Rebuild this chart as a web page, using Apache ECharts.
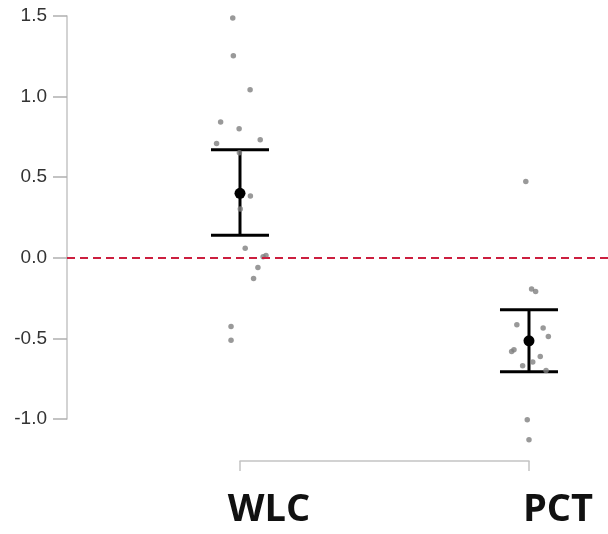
<!DOCTYPE html>
<html>
<head>
<meta charset="utf-8">
<script src="https://cdn.jsdelivr.net/npm/echarts@6/dist/echarts.min.js"></script>
<style>html,body{margin:0;padding:0;background:#fff}#c{width:608px;height:534px}</style>
</head>
<body>
<div id="c"></div>
<script>
const categories = ['WLC', 'PCT'];
const yTicks = [-1.0, -0.5, 0.0, 0.5, 1.0, 1.5];
// individual points: value and horizontal jitter (in category units)
const wlcValues = [1.487, 1.253, 1.042, 0.842, 0.800, 0.732, 0.709, 0.651, 0.383, 0.302, 0.060, 0.014, 0.006, -0.060, -0.128, -0.426, -0.511];
const wlcJitter = [-0.025, -0.023, 0.035, -0.067, -0.003, 0.070, -0.081, -0.002, 0.036, 0.001, 0.018, 0.090, 0.080, 0.062, 0.047, -0.031, -0.031];
const pctValues = [0.473, -0.194, -0.209, -0.415, -0.436, -0.488, -0.581, -0.570, -0.612, -0.647, -0.670, -0.699, -1.004, -1.128];
const pctJitter = [-0.011, 0.009, 0.023, -0.042, 0.049, 0.067, -0.060, -0.052, 0.039, 0.013, -0.022, 0.059, -0.006, 0.000];
// group means and interval bounds
const means = [0.40, -0.515];
const lower = [0.14, -0.707];
const upper = [0.67, -0.323];

const pts = [];
wlcValues.forEach((v, i) => pts.push([1 + wlcJitter[i], v]));
pctValues.forEach((v, i) => pts.push([2 + pctJitter[i], v]));
const bars = categories.map((c, i) => [i + 1, means[i], lower[i], upper[i]]);

const chart = echarts.init(document.getElementById('c'), null, {renderer: 'canvas'});
chart.setOption({
  animation: false,
  grid: [
    {left: 67, right: 0, top: 16, bottom: 115},
    {left: 240, right: 79, top: 440, bottom: 73}
  ],
  xAxis: [
    {gridIndex: 0, type: 'value', min: 0.4014, max: 2.2734, show: false},
    {gridIndex: 1, type: 'value', min: 1, max: 2, interval: 1,
     axisLine: {show: true, lineStyle: {color: '#c4c4c4', width: 1.5}},
     axisTick: {show: true, length: 10, lineStyle: {color: '#c4c4c4', width: 1.5}},
     splitLine: {show: false},
     axisLabel: {
       formatter: v => categories[Math.round(v) - 1] || '',
       fontFamily: 'Open Sans', fontWeight: 'bold', fontSize: 38, color: '#111',
       margin: 30, padding: [0, 0, 0, 58]
     }}
  ],
  yAxis: [
    {gridIndex: 0, type: 'value', min: yTicks[0], max: yTicks[yTicks.length - 1], interval: 0.5,
     axisLine: {show: true, lineStyle: {color: '#c4c4c4', width: 1.5}},
     axisTick: {show: true, length: 14, lineStyle: {color: '#b0b0b0', width: 1.5}},
     splitLine: {show: false},
     axisLabel: {formatter: v => v.toFixed(1), fontFamily: 'Liberation Sans', fontSize: 19, color: '#333', margin: 20}},
    {gridIndex: 1, type: 'value', show: false}
  ],
  series: [
    {
      type: 'scatter', xAxisIndex: 0, yAxisIndex: 0, data: pts, symbolSize: 5.5, clip: false,
      itemStyle: {color: '#808080'},
      markLine: {
        silent: true, symbol: 'none', label: {show: false},
        lineStyle: {color: '#cc1f3f', width: 2, type: [8, 5]},
        data: [{yAxis: 0}]
      }
    },
    {
      type: 'custom', xAxisIndex: 0, yAxisIndex: 0, data: bars, clip: false,
      renderItem: function (params, api) {
        const x = api.value(0);
        const m = api.coord([x, api.value(1)]);
        const lo = api.coord([x, api.value(2)]);
        const hi = api.coord([x, api.value(3)]);
        const hw = 29;
        const st = {stroke: '#000', lineWidth: 3, fill: null};
        return {type: 'group', children: [
          {type: 'line', shape: {x1: lo[0], y1: lo[1], x2: hi[0], y2: hi[1]}, style: st},
          {type: 'line', shape: {x1: lo[0] - hw, y1: lo[1], x2: lo[0] + hw, y2: lo[1]}, style: st},
          {type: 'line', shape: {x1: hi[0] - hw, y1: hi[1], x2: hi[0] + hw, y2: hi[1]}, style: st},
          {type: 'circle', shape: {cx: m[0], cy: m[1], r: 5.5}, style: {fill: '#000'}}
        ]};
      }
    }
  ]
});
</script>
</body>
</html>
